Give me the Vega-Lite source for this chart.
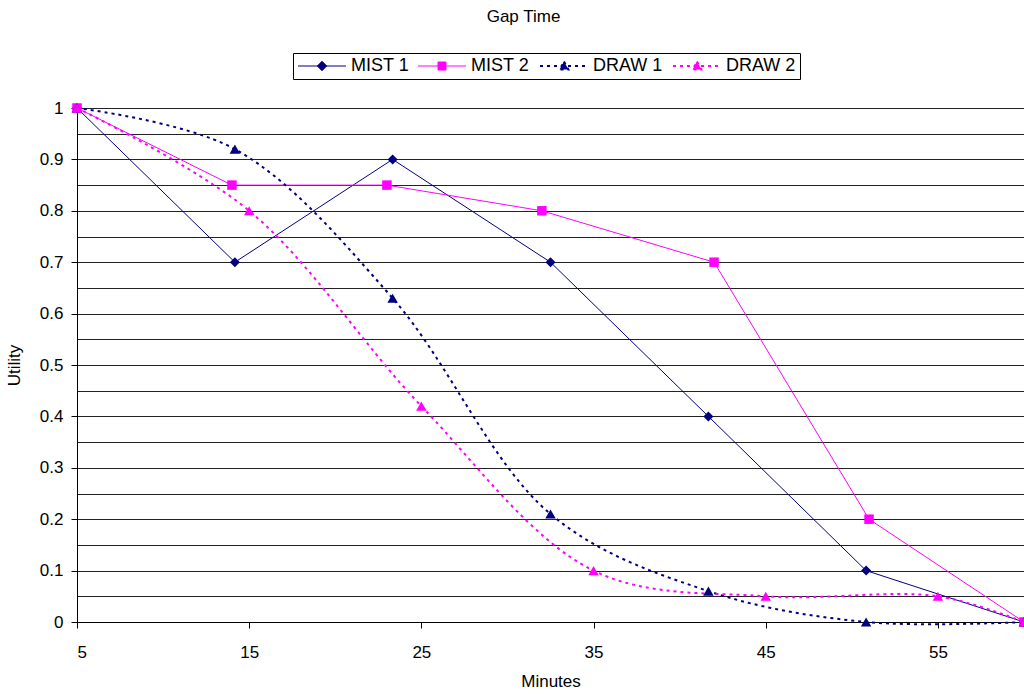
{
  "$schema": "https://vega.github.io/schema/vega-lite/v6.json",
  "width": 947,
  "height": 514,
  "autosize": {"type": "none"},
  "padding": {"left": 77, "top": 108, "right": 0, "bottom": 74},
  "background": "white",
  "title": {"text": "Gap Time", "anchor": "middle", "frame": "group", "fontSize": 17, "fontWeight": "normal", "font": "Liberation Sans", "color": "black", "offset": 27, "dx": -27},
  "config": {
    "font": "Liberation Sans",
    "view": {"stroke": null},
    "axis": {"labelFont": "Liberation Sans", "titleFont": "Liberation Sans", "labelColor": "black", "titleColor": "black", "titleFontWeight": "normal", "domainColor": "black", "tickColor": "black", "labelFontSize": 17, "titleFontSize": 17}
  },
  "data": {"values": [
    {"series": "MIST 1", "minutes": 5, "utility": 1},
    {"series": "MIST 1", "minutes": 14.17, "utility": 0.7},
    {"series": "MIST 1", "minutes": 23.33, "utility": 0.9},
    {"series": "MIST 1", "minutes": 32.5, "utility": 0.7},
    {"series": "MIST 1", "minutes": 41.67, "utility": 0.4},
    {"series": "MIST 1", "minutes": 50.83, "utility": 0.1},
    {"series": "MIST 1", "minutes": 60, "utility": 0},
    {"series": "MIST 2", "minutes": 5, "utility": 1},
    {"series": "MIST 2", "minutes": 14, "utility": 0.85},
    {"series": "MIST 2", "minutes": 23, "utility": 0.85},
    {"series": "MIST 2", "minutes": 32, "utility": 0.8},
    {"series": "MIST 2", "minutes": 42, "utility": 0.7},
    {"series": "MIST 2", "minutes": 51, "utility": 0.2},
    {"series": "MIST 2", "minutes": 60, "utility": 0},
    {"series": "DRAW 1", "minutes": 5, "utility": 1},
    {"series": "DRAW 1", "minutes": 14.17, "utility": 0.92},
    {"series": "DRAW 1", "minutes": 23.33, "utility": 0.63},
    {"series": "DRAW 1", "minutes": 32.5, "utility": 0.21},
    {"series": "DRAW 1", "minutes": 41.67, "utility": 0.06},
    {"series": "DRAW 1", "minutes": 50.83, "utility": 0},
    {"series": "DRAW 1", "minutes": 60, "utility": 0},
    {"series": "DRAW 2", "minutes": 5, "utility": 1},
    {"series": "DRAW 2", "minutes": 15, "utility": 0.8},
    {"series": "DRAW 2", "minutes": 25, "utility": 0.42},
    {"series": "DRAW 2", "minutes": 35, "utility": 0.1},
    {"series": "DRAW 2", "minutes": 45, "utility": 0.05},
    {"series": "DRAW 2", "minutes": 55, "utility": 0.05},
    {"series": "DRAW 2", "minutes": 60, "utility": 0}
  ]},
  "encoding": {
    "x": {"field": "minutes", "type": "quantitative", "scale": {"domain": [5, 60], "nice": false, "zero": false},
      "axis": {"title": "Minutes", "values": [5, 15, 25, 35, 45, 55], "grid": false, "tickSize": 6, "labelPadding": 16, "titlePadding": 13}},
    "y": {"field": "utility", "type": "quantitative", "scale": {"domain": [0, 1], "nice": false},
      "axis": {"title": "Utility", "values": [0, 0.05, 0.1, 0.15, 0.2, 0.25, 0.3, 0.35, 0.4, 0.45, 0.5, 0.55, 0.6, 0.65, 0.7, 0.75, 0.8, 0.85, 0.9, 0.95, 1],
        "labelExpr": "round(datum.value*20) % 2 == 0 ? format(datum.value, '~g') : ''",
        "tickOpacity": {"condition": {"test": "round(datum.value*20) % 2 != 0", "value": 0}, "value": 1},
        "grid": true, "gridColor": "#222222", "gridWidth": 1, "tickSize": 6, "labelPadding": 8, "titlePadding": 16}},
    "color": {"field": "series", "type": "nominal", "scale": {"domain": ["MIST 1", "MIST 2", "DRAW 1", "DRAW 2"], "range": ["#000080", "#FF00FF", "#000080", "#FF00FF"]},
      "legend": {"orient": "none", "legendX": 216, "legendY": -55, "direction": "horizontal", "columns": 4, "title": null,
         "labelFontSize": 18, "labelFont": "Liberation Sans", "labelColor": "black",
         "symbolSize": 256, "symbolStrokeWidth": 1, "labelOffset": 36, "columnPadding": 6, "padding": 4,
         "strokeColor": "black", "fillColor": "white", "symbolOpacity": 1,
         "encode": {"symbols": {"update": {
           "shape": {"signal": "datum.value == 'MIST 1' ? 'M-1,0H5M2,-0.6L2.6,0L2,0.6L1.4,0Z' : datum.value == 'MIST 2' ? 'M-1,0H5M1.5,-0.5H2.5V0.5H1.5Z' : 'M-1,0H5M2,-0.55L2.55,0.45L1.45,0.45Z'"},
           "size": {"value": 256},
           "fill": {"scale": "color", "field": "value"},
           "stroke": {"scale": "color", "field": "value"},
           "strokeDash": {"signal": "indexof(['DRAW 1','DRAW 2'], datum.value) >= 0 ? [3,4] : [1,0]"},
           "strokeWidth": {"signal": "indexof(['DRAW 1','DRAW 2'], datum.value) >= 0 ? 2 : 1"},
           "opacity": {"value": 1}}}}}}
  },
  "layer": [
    {"transform": [{"filter": "datum.series == 'MIST 1' || datum.series == 'MIST 2'"}],
     "mark": {"type": "line", "strokeWidth": 1, "clip": true}},
    {"transform": [{"filter": "datum.series == 'DRAW 1' || datum.series == 'DRAW 2'"}],
     "mark": {"type": "line", "strokeWidth": 2, "strokeDash": [3, 4], "interpolate": "catmull-rom"}},
    {"transform": [{"filter": "datum.series == 'MIST 1'"}],
     "mark": {"type": "point", "filled": true, "opacity": 1, "size": 100, "shape": "diamond"}},
    {"transform": [{"filter": "datum.series == 'MIST 2'"}],
     "mark": {"type": "point", "filled": true, "opacity": 1, "size": 90, "shape": "square"}},
    {"transform": [{"filter": "datum.series == 'DRAW 1' || datum.series == 'DRAW 2'"}],
     "mark": {"type": "point", "filled": true, "opacity": 1, "size": 110, "shape": "triangle-up"}}
  ]
}
